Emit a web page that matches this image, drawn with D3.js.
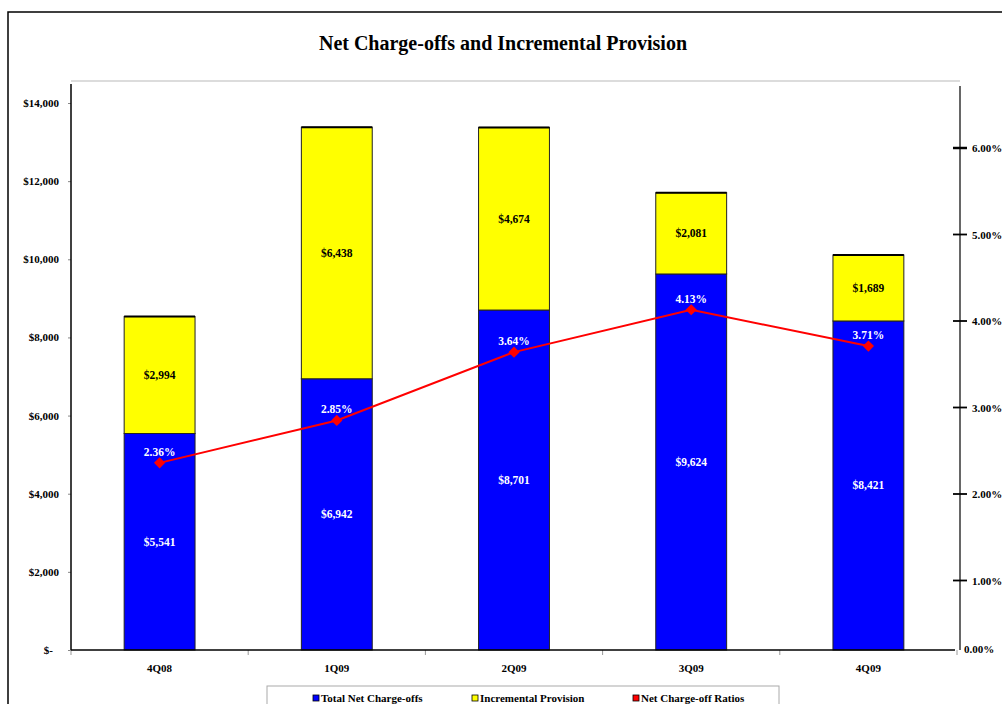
<!DOCTYPE html>
<html><head><meta charset="utf-8">
<script src="https://cdn.jsdelivr.net/npm/d3@7"></script>
<style>
html,body{margin:0;padding:0;background:#fff;}
svg text{font-family:"Liberation Serif","Times New Roman",serif;font-weight:bold;}
</style></head>
<body><svg id="chart" width="1002" height="704"></svg>
<script>
const categories = ["4Q08","1Q09","2Q09","3Q09","4Q09"];
const netChargeOffs = [5541, 6942, 8701, 9624, 8421];
const incrementalProvision = [2994, 6438, 4674, 2081, 1689];
const chargeOffRatios = [2.36, 2.85, 3.64, 4.13, 3.71];
const leftTicks = [0, 2000, 4000, 6000, 8000, 10000, 12000, 14000];
const rightTicks = [0, 1, 2, 3, 4, 5, 6];
const seriesNames = ["Total Net Charge-offs","Incremental Provision","Net Charge-off Ratios"];
const seriesColors = ["#0000ff","#ffff00","#ff0000"];

const svg = d3.select("#chart");
const plotL = 71, plotR = 957, plotTop = 81, base = 650, rightAxisX = 960;

// outer frame
svg.append("rect").attr("x",8).attr("y",12).attr("width",1200).attr("height",900)
  .attr("fill","none").attr("stroke","#000").attr("stroke-width",1.5);

svg.append("text").attr("x",503).attr("y",50).attr("text-anchor","middle")
  .attr("font-size",20).text("Net Charge-offs and Incremental Provision");

const x = d3.scaleBand().domain(categories).range([plotL, plotR]).paddingInner(0.6).paddingOuter(0.3);
const y = d3.scaleLinear().domain([0,14000]).range([base,103]);
const y2 = d3.scaleLinear().domain([0,6]).range([667,148]);

// plot area top border
svg.append("line").attr("x1",plotL).attr("x2",rightAxisX).attr("y1",plotTop).attr("y2",plotTop)
  .attr("stroke","#d0d0d0").attr("stroke-width",1.5);

// left axis
const gl = svg.append("g").attr("transform",`translate(${plotL},0)`)
  .call(d3.axisLeft(y).tickValues(leftTicks).tickSize(3).tickPadding(9)
    .tickFormat(v => v===0 ? "$-" : "$" + d3.format(",")(v)));
gl.select(".domain").remove();
gl.selectAll(".tick line").attr("stroke","#888");
gl.selectAll(".tick text").attr("font-size",11).attr("fill","#000")
  .attr("font-family","Liberation Serif, serif").attr("font-weight","bold")
  .attr("dx", d => d===0 ? -6 : 0);
svg.append("line").attr("x1",plotL).attr("x2",plotL).attr("y1",84).attr("y2",base)
  .attr("stroke","#000").attr("stroke-width",1.5);

// x axis
const step = x.step();
const boundaries = d3.range(categories.length+1).map(i => plotL + i*step);
svg.selectAll(".xtick").data(boundaries).join("line").attr("class","xtick")
  .attr("x1",d=>d).attr("x2",d=>d).attr("y1",base).attr("y2",base+5).attr("stroke","#999");
svg.selectAll(".xlab").data(categories).join("text").attr("class","xlab")
  .attr("x",d=>x(d)+x.bandwidth()/2).attr("y",672).attr("text-anchor","middle")
  .attr("font-size",11).text(d=>d);

// bars
const stackData = categories.map((c,i)=>({c, a:netChargeOffs[i], b:incrementalProvision[i]}));
svg.selectAll(".barA").data(stackData).join("rect").attr("class","barA")
  .attr("x",d=>x(d.c)).attr("width",x.bandwidth())
  .attr("y",d=>y(d.a)).attr("height",d=>y(0)-y(d.a))
  .attr("fill",seriesColors[0]).attr("stroke","#222").attr("stroke-width",1);
svg.selectAll(".barB").data(stackData).join("rect").attr("class","barB")
  .attr("x",d=>x(d.c)).attr("width",x.bandwidth())
  .attr("y",d=>y(d.a+d.b)).attr("height",d=>y(d.a)-y(d.a+d.b))
  .attr("fill",seriesColors[1]).attr("stroke","#222").attr("stroke-width",1);
svg.selectAll(".topEdge").data(stackData).join("line").attr("class","topEdge")
  .attr("x1",d=>x(d.c)).attr("x2",d=>x(d.c)+x.bandwidth())
  .attr("y1",d=>y(d.a+d.b)).attr("y2",d=>y(d.a+d.b)).attr("stroke","#000").attr("stroke-width",2);

// x-axis baseline
svg.append("line").attr("x1",plotL).attr("x2",plotR-2).attr("y1",base).attr("y2",base)
  .attr("stroke","#000").attr("stroke-width",1.5);

// bar labels
const fmt = v => "$" + d3.format(",")(v);
svg.selectAll(".labA").data(stackData).join("text").attr("class","labA")
  .attr("x",d=>x(d.c)+x.bandwidth()/2).attr("y",d=>(y(0)+y(d.a))/2+4)
  .attr("text-anchor","middle").attr("font-size",11.5).attr("fill","#fff").text(d=>fmt(d.a));
svg.selectAll(".labB").data(stackData).join("text").attr("class","labB")
  .attr("x",d=>x(d.c)+x.bandwidth()/2).attr("y",d=>(y(d.a)+y(d.a+d.b))/2+4)
  .attr("text-anchor","middle").attr("font-size",11.5).attr("fill","#000").text(d=>fmt(d.b));

// right axis
svg.append("line").attr("x1",rightAxisX).attr("x2",rightAxisX).attr("y1",86).attr("y2",base)
  .attr("stroke","#000").attr("stroke-width",1.2);
const gr = svg.append("g");
gr.selectAll(".rtick").data(rightTicks.filter(t=>t>0)).join("line").attr("class","rtick")
  .attr("x1",rightAxisX-7).attr("x2",rightAxisX+7).attr("y1",d=>y2(d)).attr("y2",d=>y2(d))
  .attr("stroke","#000").attr("stroke-width",d=>d===6?2.5:1.8);
gr.selectAll(".rlab").data(rightTicks).join("text").attr("class","rlab")
  .attr("x",d=>d===0?964:972).attr("y",d=>d===0?base+3:y2(d)+4)
  .attr("font-size",11).text(d=>d3.format(".2f")(d)+"%");

// line series
const pts = categories.map((c,i)=>({c, v:chargeOffRatios[i]}));
const line = d3.line().x(d=>x(d.c)+x.bandwidth()/2).y(d=>y2(d.v));
svg.append("path").datum(pts).attr("d",line).attr("fill","none")
  .attr("stroke",seriesColors[2]).attr("stroke-width",2);
svg.selectAll(".mk").data(pts).join("path").attr("class","mk")
  .attr("d",d3.symbol().type(d3.symbolDiamond2).size(80))
  .attr("transform",d=>`translate(${x(d.c)+x.bandwidth()/2},${y2(d.v)})`)
  .attr("fill",seriesColors[2]);
svg.selectAll(".pl").data(pts).join("text").attr("class","pl")
  .attr("x",d=>x(d.c)+x.bandwidth()/2).attr("y",d=>y2(d.v)-7)
  .attr("text-anchor","middle").attr("font-size",11.5).attr("fill","#fff")
  .text(d=>d3.format(".2f")(d.v)+"%");

// legend
svg.append("rect").attr("x",267).attr("y",686).attr("width",512).attr("height",40)
  .attr("fill","#fff").attr("stroke","#aaa").attr("stroke-width",1);
const legX = [313, 472, 633];
const lg = svg.selectAll(".leg").data(seriesNames).join("g").attr("class","leg")
  .attr("transform",(d,i)=>`translate(${legX[i]},695)`);
lg.append("rect").attr("width",6).attr("height",6).attr("fill",(d,i)=>seriesColors[i])
  .attr("stroke","#000").attr("stroke-width",0.8);
lg.append("text").attr("x",8).attr("y",6.5).attr("font-size",11).text(d=>d);
</script></body></html>
